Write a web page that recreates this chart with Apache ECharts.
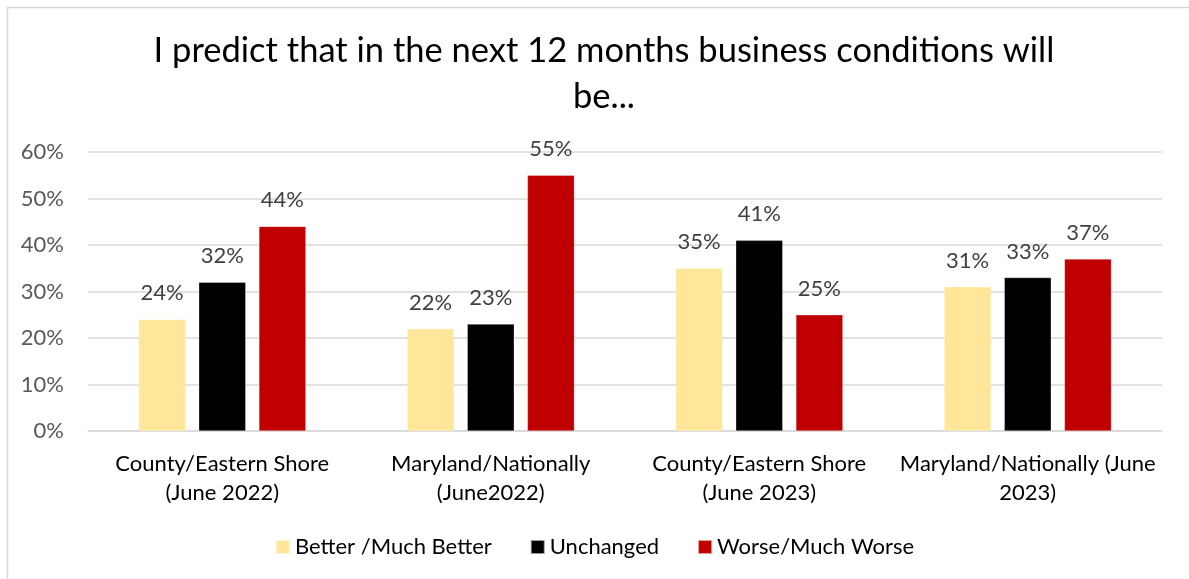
<!DOCTYPE html>
<html>
<head>
<meta charset="utf-8">
<script src="https://cdn.jsdelivr.net/npm/echarts@6/dist/echarts.min.js"></script>
<style>
  html, body { margin: 0; padding: 0; background: #fff; }
  #chart { width: 1189px; height: 579px; }
</style>
</head>
<body>
<div id="chart"></div>
<script>
// Survey outlook by region and year
const categories = [
  'County/Eastern Shore\n(June 2022)',
  'Maryland/Nationally\n(June2022)',
  'County/Eastern Shore\n(June 2023)',
  'Maryland/Nationally (June\n2023)'
];
const better = [24, 22, 35, 31];
const unchanged = [32, 23, 41, 33];
const worse = [44, 55, 25, 37];
const yTicks = [0, 10, 20, 30, 40, 50, 60];

const FONT = 'Lato';
const labelStyle = {
  show: true,
  position: 'top',
  distance: 15,
  formatter: p => p.value + '%',
  color: '#404040',
  fontSize: 22,
  fontFamily: FONT
};

function barSeries(name, data, color) {
  return {
    name: name,
    type: 'bar',
    data: data,
    barWidth: 47,
    barGap: '28%',
    itemStyle: { color: color, borderColor: 'rgba(255,255,255,0.6)', borderWidth: 0.5 },
    label: labelStyle
  };
}

const chart = echarts.init(document.getElementById('chart'), null, { renderer: 'canvas' });
chart.setOption({
  animation: false,
  backgroundColor: '#fff',
  graphic: [{
    type: 'rect',
    shape: { x: 7.5, y: 7.5, width: 1300, height: 700 },
    style: { fill: 'none', stroke: '#d9d9d9', lineWidth: 1.5 },
    silent: true
  }],
  title: {
    text: 'I predict that in the next 12 months business conditions will\nbe...',
    left: 599,
    textAlign: 'center',
    top: 23,
    textStyle: {
      fontFamily: FONT,
      fontSize: 34.5,
      fontWeight: 'normal',
      color: '#000',
      lineHeight: 46
    }
  },
  legend: {
    top: 531,
    left: 'center',
    itemWidth: 14,
    itemHeight: 14,
    itemGap: 38,
    icon: 'rect',
    textStyle: { fontFamily: FONT, fontSize: 22, color: '#000' }
  },
  grid: { left: 88, right: 27, top: 152, bottom: 148, containLabel: false },
  xAxis: {
    type: 'category',
    data: categories,
    axisLine: { lineStyle: { color: '#d9d9d9', width: 1.5 } },
    axisTick: { show: false },
    axisLabel: {
      fontFamily: FONT,
      fontSize: 22,
      color: '#000',
      lineHeight: 29,
      margin: 18,
      interval: 0
    }
  },
  yAxis: {
    type: 'value',
    min: yTicks[0],
    max: yTicks[yTicks.length - 1],
    interval: 10,
    axisLine: { show: false },
    axisTick: { show: false },
    splitLine: { lineStyle: { color: '#d9d9d9', width: 1.5 } },
    axisLabel: {
      formatter: v => v + '%',
      fontFamily: FONT,
      fontSize: 22,
      color: '#595959',
      margin: 24
    }
  },
  series: [
    barSeries('Better /Much Better', better, '#FFE699'),
    barSeries('Unchanged', unchanged, '#000000'),
    barSeries('Worse/Much Worse', worse, '#C00000')
  ]
});
</script>
</body>
</html>
